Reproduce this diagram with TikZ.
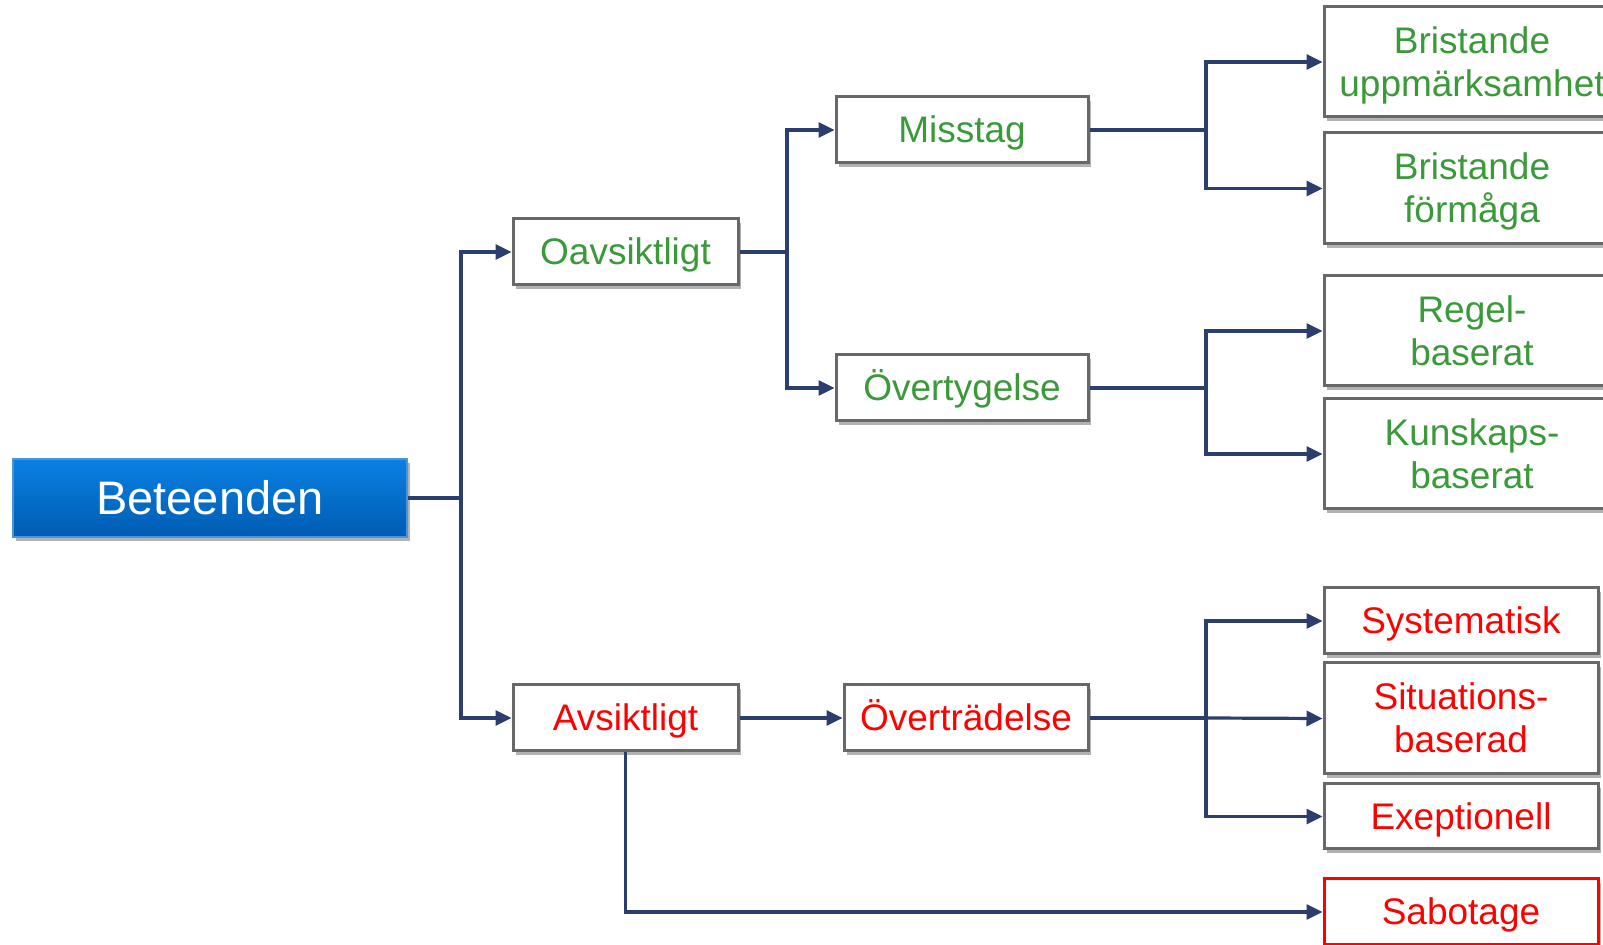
\documentclass[tikz,border=0pt]{standalone}
\usepackage{fontspec}
\setmainfont{Liberation Sans}
\usetikzlibrary{arrows.meta,shadows}
\definecolor{conn}{HTML}{2B3E6E}
\definecolor{boxline}{HTML}{686868}
\definecolor{grn}{HTML}{3A9A3A}
\definecolor{rd}{HTML}{FF0000}
\definecolor{bluetop}{HTML}{0A80E4}
\definecolor{bluebot}{HTML}{005CB2}
\definecolor{blueline}{HTML}{4A94DA}
\newcommand\pst{\rule[-0.212em]{0pt}{1.117em}}
\tikzset{
  sbox/.style={draw=boxline, line width=1.5pt, fill=white, inner sep=0pt, align=center,
    font=\fontsize{18.5}{21.5}\selectfont,
    drop shadow={shadow xshift=1.5pt, shadow yshift=-2pt, fill=black, opacity=0.3}},
  gtxt/.style={text=grn},
  rtxt/.style={text=rd},
  conline/.style={draw=conn, line width=1.6pt},
  arr/.style={conline, -{Triangle[length=8pt,width=7.5pt]}},
}
\begin{document}
\begin{tikzpicture}[x=0.5pt,y=-0.5pt]
\clip (0,0) rectangle (1603,945);
\fill[white] (0,0) rectangle (1603,945);
% root
\node[draw=blueline, line width=0.6pt, top color=bluetop, bottom color=bluebot,
  minimum width=197pt, minimum height=39pt, inner sep=0pt, text=white,
  font=\fontsize{23.5}{27}\selectfont,
  drop shadow={shadow xshift=1.5pt, shadow yshift=-2pt, fill=black, opacity=0.3}]
  (bet) at (210,498) {\pst Beteenden};
% level 1
\node[sbox,gtxt,minimum width=112.5pt,minimum height=33pt] (oav) at (625.5,252) {\pst Oavsiktligt};
\node[sbox,rtxt,minimum width=112.5pt,minimum height=33pt] (avs) at (625.5,718) {\pst Avsiktligt};
% level 2
\node[sbox,gtxt,minimum width=126pt,minimum height=33pt] (mis) at (962,130) {\pst Misstag};
\node[sbox,gtxt,minimum width=126pt,minimum height=33pt] (ovt) at (962,388) {\pst Övertygelse};
\node[sbox,rtxt,minimum width=122pt,minimum height=33pt] (ovd) at (966,718) {\pst Överträdelse};
% level 3
\node[sbox,gtxt,minimum width=148pt,minimum height=55pt] (bu) at (1472,62) {\pst Bristande\\\pst uppmärksamhet};
\node[sbox,gtxt,minimum width=148pt,minimum height=55.5pt] (bf) at (1472,188.5) {\pst Bristande\\\pst förmåga};
\node[sbox,gtxt,minimum width=148pt,minimum height=55pt] (rb) at (1472,331) {\pst Regel-\\\pst baserat};
\node[sbox,gtxt,minimum width=148pt,minimum height=55pt] (kb) at (1472,454) {\pst Kunskaps-\\\pst baserat};
\node[sbox,rtxt,minimum width=137pt,minimum height=33pt] (sys) at (1461,621) {\pst Systematisk};
\node[sbox,rtxt,minimum width=137pt,minimum height=55.5pt] (sit) at (1461,718.5) {\pst Situations-\\\pst baserad};
\node[sbox,rtxt,minimum width=137pt,minimum height=32.5pt] (exe) at (1461,816.5) {\pst Exeptionell};
\node[sbox,rtxt,draw=rd,minimum width=137pt,minimum height=33pt] (sab) at (1461,912) {\pst Sabotage};
% junctions
\coordinate (j0) at (461,498);
\coordinate (j1) at (787,252);
\coordinate (j2) at (1206,130);
\coordinate (j3) at (1206,388);
\coordinate (j4) at (1206,718);
% connectors
\draw[conline] (bet.east) -- (j0);
\draw[arr] (j0) |- (oav.west);
\draw[arr] (j0) |- (avs.west);
\draw[conline] (oav.east) -- (j1);
\draw[arr] (j1) |- (mis.west);
\draw[arr] (j1) |- (ovt.west);
\draw[conline] (mis.east) -- (j2);
\draw[arr] (j2) |- (bu.west);
\draw[arr] (j2) |- (bf.west);
\draw[conline] (ovt.east) -- (j3);
\draw[arr] (j3) |- (rb.west);
\draw[arr] (j3) |- (kb.west);
\draw[arr] (avs.east) -- (ovd.west);
\draw[conline] (ovd.east) -- (j4);
\draw[arr] (j4) |- (sys.west);
\draw[arr] (j4) -- (sit.west);
\draw[arr] (j4) |- (exe.west);
\draw[arr] (avs.south) |- (sab.west);
\end{tikzpicture}
\end{document}
